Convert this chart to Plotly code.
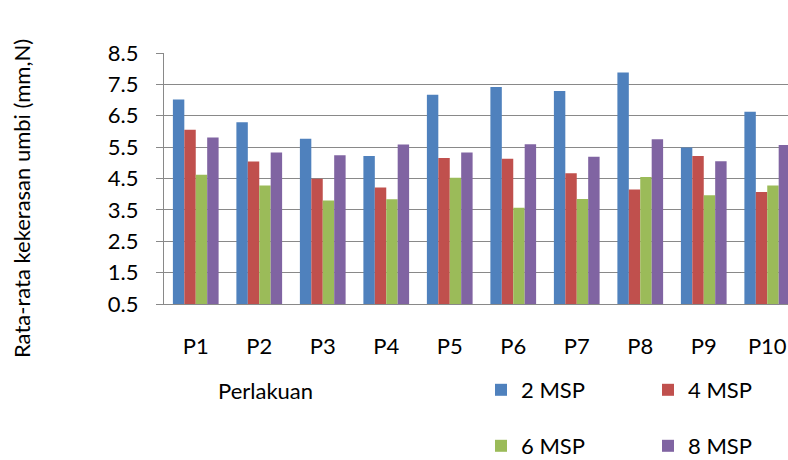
import plotly.graph_objects as go

categories = ["P1", "P2", "P3", "P4", "P5", "P6", "P7", "P8", "P9", "P10"]
msp2 = [7.02, 6.29, 5.77, 5.22, 7.17, 7.42, 7.29, 7.88, 5.49, 6.63]
msp4 = [6.05, 5.04, 4.49, 4.21, 5.15, 5.13, 4.67, 4.15, 5.22, 4.07]
msp6 = [4.62, 4.28, 3.80, 3.84, 4.52, 3.57, 3.85, 4.55, 3.97, 4.28]
msp8 = [5.81, 5.33, 5.24, 5.58, 5.33, 5.59, 5.19, 5.75, 5.05, 5.57]
series_names = ["2 MSP", "4 MSP", "6 MSP", "8 MSP"]
colors = ["#4F81BD", "#C0504D", "#9BBB59", "#8064A2"]
y_ticks = [0.5, 1.5, 2.5, 3.5, 4.5, 5.5, 6.5, 7.5, 8.5]

FONT = "Lato"
W, H = 788, 460
ML = 164
MT = 53
PB = 304
MB = H - PB
plot_w = W - ML
plot_h = PB - MT
cat_px = 63.5

fig = go.Figure()
legends = ["legend", "legend2", "legend3", "legend4"]
for name, vals, col, lg in zip(series_names, [msp2, msp4, msp6, msp8], colors, legends):
    fig.add_trace(go.Bar(
        x=categories, y=vals, name=name, marker_color=col,
        marker_line_width=0, legend=lg,
    ))

leg_font = dict(family=FONT, size=22, color="black")
leg_pos = [(481, 390), (648, 390), (481, 446), (648, 446)]  # page px
leg_layout = {}
for lg, (px, py) in zip(legends, leg_pos):
    leg_layout[lg] = dict(
        xref="container", yref="container",
        x=px / W, y=(H - py) / H, xanchor="left", yanchor="middle",
        font=leg_font, bgcolor="rgba(0,0,0,0)", borderwidth=0,
        orientation="h",
    )

fig.update_layout(
    width=W, height=H,
    margin=dict(l=ML, r=0, t=MT, b=MB, pad=0, autoexpand=False),
    plot_bgcolor="white", paper_bgcolor="white",
    barmode="group", bargap=0.28, bargroupgap=0,
    font=dict(family=FONT, size=22, color="black"),
    showlegend=True,
    **leg_layout,
)

fig.update_xaxes(
    type="category", automargin=False,
    range=[-0.5, -0.5 + plot_w / cat_px],
    showline=True, linecolor="#898989", linewidth=1.3,
    ticks="", showgrid=False,
    tickfont=dict(family=FONT, size=22, color="black"),
    ticklabelstandoff=22,
)
fig.update_yaxes(
    automargin=False,
    range=[0.5, 8.5],
    tickvals=y_ticks, ticktext=[f"{v:.1f}" for v in y_ticks],
    showline=True, linecolor="#898989", linewidth=1.3,
    ticks="outside", ticklen=7, tickcolor="#898989", tickwidth=1.3,
    showgrid=True, gridcolor="#898989", gridwidth=1.3,
    zeroline=False,
    tickfont=dict(family=FONT, size=22, color="black"),
    ticklabelstandoff=13,
)

def to_paper(px, py):
    return (px - ML) / plot_w, (PB - py) / plot_h

tx, ty = to_paper(22, 199)
fig.add_annotation(
    text="Rata-rata kekerasan umbi (mm,N)", textangle=-90,
    xref="paper", yref="paper", x=tx, y=ty,
    xanchor="center", yanchor="middle", showarrow=False,
    font=dict(family=FONT, size=22, color="black"),
)
px_, py_ = to_paper(265, 390)
fig.add_annotation(
    text="Perlakuan",
    xref="paper", yref="paper", x=px_, y=py_,
    xanchor="center", yanchor="middle", showarrow=False,
    font=dict(family=FONT, size=22, color="black"),
)

fig.write_html(
    "out.html",
    config={"displayModeBar": False},
    post_script="document.body.style.margin='0';document.documentElement.style.overflow='hidden';",
)
